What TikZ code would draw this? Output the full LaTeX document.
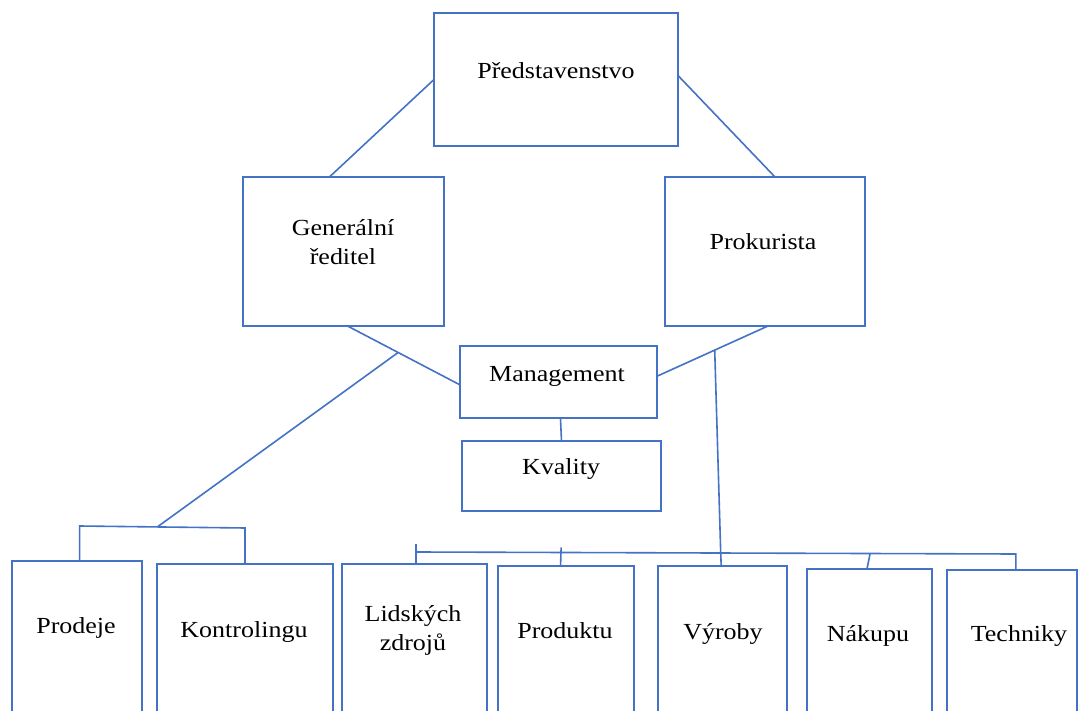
\documentclass[tikz,border=0pt]{standalone}
\usepackage{fontspec}
\setmainfont[FakeStretch=1.13]{Liberation Serif}
\usetikzlibrary{calc}
\definecolor{ln}{HTML}{4472C4}
\begin{document}
\begin{tikzpicture}[x=1pt,y=-1pt,
  box/.style={draw=ln, line width=1.6pt, inner sep=0pt, outer sep=0pt, anchor=north west},
  conn/.style={draw=ln, line width=1.6pt},
  lbl/.style={font=\fontsize{23}{29}\selectfont, inner sep=0pt, anchor=base, align=center, text=black}]
\clip (0,0) rectangle (1080,711);
\fill[white] (0,0) rectangle (1080,711);
% boxes
\node[box, minimum width=244pt, minimum height=133pt] (p) at (434,13) {};
\node[box, minimum width=201pt, minimum height=149pt] (g) at (243,177) {};
\node[box, minimum width=200pt, minimum height=149pt] (k) at (665,177) {};
\node[box, minimum width=197pt, minimum height=72pt] (m) at (460,346) {};
\node[box, minimum width=199pt, minimum height=70pt] (q) at (462,441) {};
\node[box, minimum width=130pt, minimum height=220pt] (b1) at (12,561) {};
\node[box, minimum width=176pt, minimum height=220pt] (b2) at (157,564) {};
\node[box, minimum width=145pt, minimum height=220pt] (b3) at (342,564) {};
\node[box, minimum width=136pt, minimum height=220pt] (b4) at (498,566) {};
\node[box, minimum width=129pt, minimum height=220pt] (b5) at (658,566) {};
\node[box, minimum width=125pt, minimum height=220pt] (b6) at (807,569) {};
\node[box, minimum width=130pt, minimum height=220pt] (b7) at (947,570) {};
% labels
\node[lbl] (pt) at (556,79) {Představenstvo};
\node[lbl] (gt) at (343,265) {Generální\\ředitel};
\node[lbl] (kt) at (763,250) {Prokurista};
\node[lbl] (mt) at (557,382) {Management};
\node[lbl] (qt) at (561,475) {Kvality};
\node[lbl] (t1) at (76,633) {Prodeje};
\node[lbl] (t2) at (244,637) {Kontrolingu};
\node[lbl] (t3) at (413,650) {Lidských\\zdrojů};
\node[lbl] (t4) at (565,638) {Produktu};
\node[lbl] (t5) at (723,639) {Výroby};
\node[lbl] (t6) at (868,641) {Nákupu};
\node[lbl] (t7) at (1019,641) {Techniky};
% upper connectors
\draw[conn] ($(p.north west)!0.50!(p.south west)$) -- ($(g.north west)!0.43!(g.north east)$);
\draw[conn] ($(p.north east)!0.47!(p.south east)$) -- ($(k.north west)!0.55!(k.north east)$);
% general director - management
\coordinate (gm1) at ($(g.south west)!0.52!(g.south east)$);
\coordinate (gm2) at ($(m.north west)!0.54!(m.south west)$);
\draw[conn] (gm1) -- (gm2);
\coordinate (gj) at ($(gm1)!0.45!(gm2)$);
% left bus
\coordinate (lb1) at ($(b1.north west)!0.52!(b1.north east)+(0,-35)$);
\coordinate (lb2) at ($(b2.north west)!0.50!(b2.north east)+(0,-36)$);
\draw[conn] ($(b1.north west)!0.52!(b1.north east)$) -- (lb1) -- (lb2) -- ($(b2.north west)!0.50!(b2.north east)$);
\draw[conn] (gj) -- ($(lb1)!0.47!(lb2)$);
% management - prokurista
\coordinate (mk1) at ($(m.north east)!0.42!(m.south east)$);
\coordinate (mk2) at ($(k.south west)!0.515!(k.south east)$);
\draw[conn] (mk1) -- (mk2);
\coordinate (kj) at ($(mk1)!0.52!(mk2)$);
% management - kvality
\draw[conn] ($(m.south west)!0.51!(m.south east)$) -- ($(q.north west)!0.50!(q.north east)$);
% right bus
\coordinate (rb3) at ($(b3.north west)!0.51!(b3.north east)+(0,-12)$);
\coordinate (rb7) at ($(b7.north west)!0.53!(b7.north east)+(0,-16)$);
\draw[conn] (rb3) -- (rb7) -- ($(b7.north west)!0.53!(b7.north east)$);
\draw[conn] ($(rb3)+(0,-8)$) -- ($(b3.north west)!0.51!(b3.north east)$);
\draw[conn] ($($(rb3)!0.242!(rb7)$)+(0,-5)$) -- ($(b4.north west)!0.46!(b4.north east)$);
\draw[conn] ($(rb3)!0.508!(rb7)$) -- ($(b5.north west)!0.49!(b5.north east)$);
\draw[conn] ($(rb3)!0.757!(rb7)$) -- ($(b6.north west)!0.48!(b6.north east)$);
\draw[conn] (kj) -- ($(rb3)!0.508!(rb7)$);
\end{tikzpicture}
\end{document}
